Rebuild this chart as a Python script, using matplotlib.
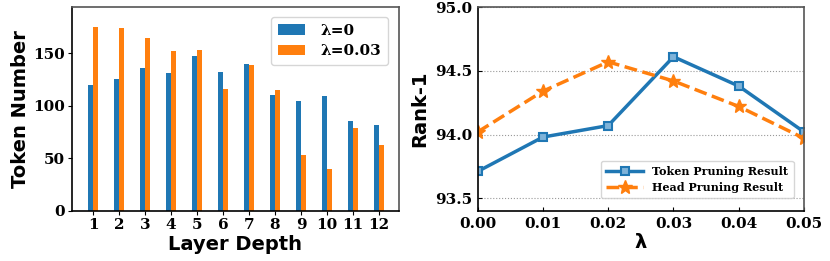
import matplotlib
matplotlib.use("Agg")
import matplotlib.pyplot as plt
import numpy as np

layers = list(range(1, 13))
tokens_l0 = [120, 126, 136, 131, 147, 132, 140, 110, 105, 109, 86, 82]
tokens_l003 = [175, 174, 165, 152, 153, 116, 139, 115, 53, 40, 79, 63]

lambdas = [0.00, 0.01, 0.02, 0.03, 0.04, 0.05]
token_pruning = [93.71, 93.98, 94.07, 94.61, 94.38, 94.02]
head_pruning = [94.02, 94.34, 94.57, 94.42, 94.22, 93.97]

blue = "#1f77b4"
orange = "#ff7f0e"

fig = plt.figure(figsize=(8.3, 2.61), dpi=100)
ax1 = fig.add_axes([0.0867, 0.1916, 0.394, 0.7814])
ax2 = fig.add_axes([0.5755, 0.1916, 0.3932, 0.7814])

x = np.array(layers)
w = 0.2
ax1.bar(x - w / 2, tokens_l0, width=w, color=blue, label="λ=0")
ax1.bar(x + w / 2, tokens_l003, width=w, color=orange, label="λ=0.03")
ax1.set_xlim(0.19, 12.77)
ax1.set_ylim(0, 194)
ax1.set_xticks(layers)
ax1.set_xticklabels([str(v) for v in layers])
ax1.set_yticks([0, 50, 100, 150])
ax1.set_xlabel("Layer Depth", fontsize=14, fontweight="bold", labelpad=2)
ax1.set_ylabel("Token Number", fontsize=14, fontweight="bold", labelpad=2)
for lab in ax1.get_xticklabels() + ax1.get_yticklabels():
    lab.set_fontfamily("DejaVu Serif")
    lab.set_fontweight("bold")
    lab.set_fontsize(11)
ax1.tick_params(axis="both", length=3, pad=2)
ax1.legend(loc="upper right", prop=dict(family="DejaVu Serif", weight="bold", size=11),
           handlelength=1.8, borderpad=0.45, labelspacing=0.45, handletextpad=1.0,
           bbox_to_anchor=(0.99, 0.99))

ax2.plot(lambdas, token_pruning, color=blue, lw=2.5, marker="s", ms=6,
         mfc="#7fb3d9", mec=blue, mew=1.5, label="Token Pruning Result")
ax2.plot(lambdas, head_pruning, color=orange, lw=2.5, ls="--", marker="*", ms=10,
         label="Head Pruning Result")
ax2.set_xlim(0, 0.05)
ax2.set_ylim(93.4, 95.0)
ax2.set_xticks(lambdas)
ax2.set_xticklabels(["%.2f" % v for v in lambdas])
ax2.set_yticks([93.5, 94.0, 94.5, 95.0])
ax2.set_yticklabels(["93.5", "94.0", "94.5", "95.0"])
ax2.grid(axis="y", ls=":", color="#999999", lw=0.8)
ax2.set_xlabel("λ", fontsize=14, fontweight="bold", labelpad=2)
ax2.set_ylabel("Rank-1", fontsize=14, fontweight="bold", labelpad=4)
for lab in ax2.get_xticklabels() + ax2.get_yticklabels():
    lab.set_fontfamily("DejaVu Serif")
    lab.set_fontweight("bold")
    lab.set_fontsize(11)
ax2.tick_params(axis="both", direction="in", length=3, pad=4)
ax2.legend(loc="lower right", prop=dict(family="DejaVu Serif", weight="bold", size=8),
           handlelength=3.3, borderpad=0.5, labelspacing=0.4,
           bbox_to_anchor=(0.985, 0.035))

for ax in (ax1, ax2):
    ax.spines["top"].set_color("#555555")
    ax.spines["right"].set_color("#555555")
    for s in ax.spines.values():
        s.set_linewidth(1.2)

fig.savefig("out.png", dpi=100)
